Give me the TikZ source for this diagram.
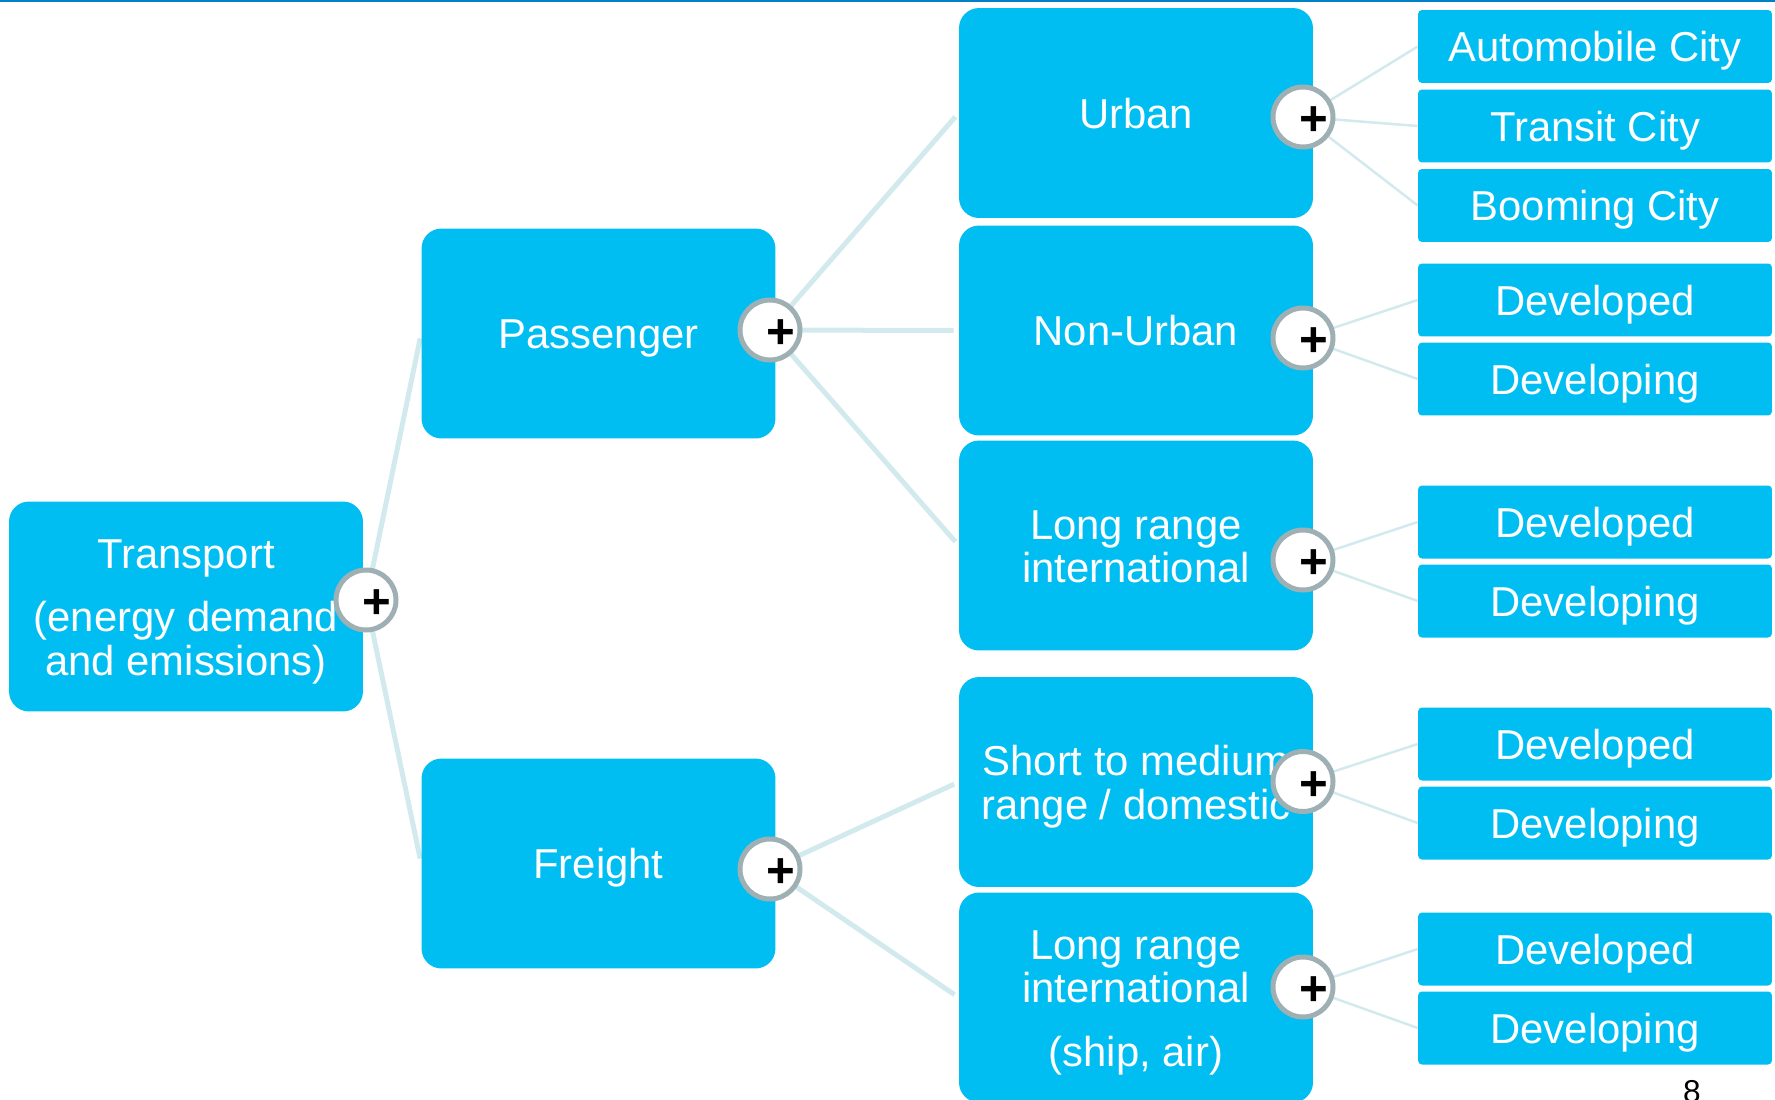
\documentclass[tikz,border=0pt]{standalone}
\usepackage{fontspec}
\setmainfont{Liberation Sans}
\usetikzlibrary{backgrounds}
\definecolor{boxblue}{RGB}{0,190,242}
\definecolor{linkcol}{RGB}{210,234,238}
\definecolor{ringgray}{RGB}{158,176,180}
\definecolor{rulecol}{RGB}{0,128,198}
\newcommand{\topstrut}{\rule[-0.21em]{0pt}{1.16em}}
\begin{document}
\begin{tikzpicture}[x=0.02cm,y=-0.02cm,every node/.style={font=\fontsize{23.8}{25}\selectfont},
  textstrut/.style={execute at begin node={\topstrut},execute at end node={\rule[-0.21em]{0pt}{0pt}}},
  topic/.style={fill=boxblue,text=white,rounded corners=0.4cm,minimum width=7.08cm,minimum height=4.2cm,align=center,inner sep=0pt,textstrut},
  leaf/.style={fill=boxblue,text=white,rounded corners=0.08cm,minimum width=7.08cm,minimum height=1.46cm,inner sep=0pt,textstrut},
  expander/.style={circle,draw=ringgray,line width=0.1cm,fill=white,minimum size=1.2cm,inner sep=0pt},
  plus/.style={font=\fontsize{28}{28}\bfseries\selectfont,text=black,inner sep=0pt},
  link/.style={linkcol,line width=0.1cm,shorten >=0.1cm},
  twig/.style={linkcol,line width=0.05cm}]
\useasboundingbox (0,0) rectangle (1775,1099);
\clip (0,0) rectangle (1775,1099);
\draw[rulecol,line width=0.04cm] (0,1)--(1775,1);
% Root
\node[topic] (transport) at (186,606.5) {\topstrut Transport\\[0.4cm](energy demand\\and emissions)};
% First level
\node[topic] (passenger) at (598.5,333.5) {Passenger};
\node[topic] (freight) at (598.5,863.5) {Freight};
% Second level
\node[topic] (urban) at (1136,113) {Urban};
\node[topic] (nonurban) at (1136,330.5) {Non-Urban};
\node[topic] (longpas) at (1136,545.5) {\topstrut Long range\\international};
\node[topic] (shortfr) at (1136,782) {\topstrut Short to medium\\range / domestic};
\node[topic] (longfr) at (1136,997.5) {\topstrut Long range\\international\\[0.4cm](ship, air)};
% Leaves
\foreach \nm/\y/\txt in {auto/46.5/Automobile City,transit/126/Transit City,boom/205.5/Booming City,
  nuA/300/Developed,nuB/379/Developing,lpA/522/Developed,lpB/601/Developing,
  smA/744/Developed,smB/823/Developing,lfA/949/Developed,lfB/1028/Developing}
  \node[leaf] (\nm) at (1595,\y) {\txt};
% Expand buttons
\foreach \nm/\x/\y in {xT/366/600,xP/770/330,xF/770/869,xU/1303/117,xN/1303/338,xL/1303/560,xS/1303/781.5,xR/1303/987}{
  \node[expander] (\nm) at (\x,\y) {};
  \node[plus] at ([xshift=0.22cm,yshift=-0.09cm]\nm.center) {+};
}
% Connectors
\begin{scope}[on background layer]
\foreach \a/\b in {xT/passenger,xT/freight,xP/urban,xP/nonurban,xP/longpas,xF/shortfr,xF/longfr}
  \draw[link] (\a.center)--(\b.west);
\foreach \a/\b in {xU/auto,xU/transit,xU/boom,xN/nuA,xN/nuB,xL/lpA,xL/lpB,xS/smA,xS/smB,xR/lfA,xR/lfB}
  \draw[twig] (\a.center)--(\b.west);
\end{scope}
% Page number
\node[font=\fontsize{18}{18}\selectfont,anchor=base] (pagenum) at (1692,1102) {8};
\end{tikzpicture}
\end{document}
